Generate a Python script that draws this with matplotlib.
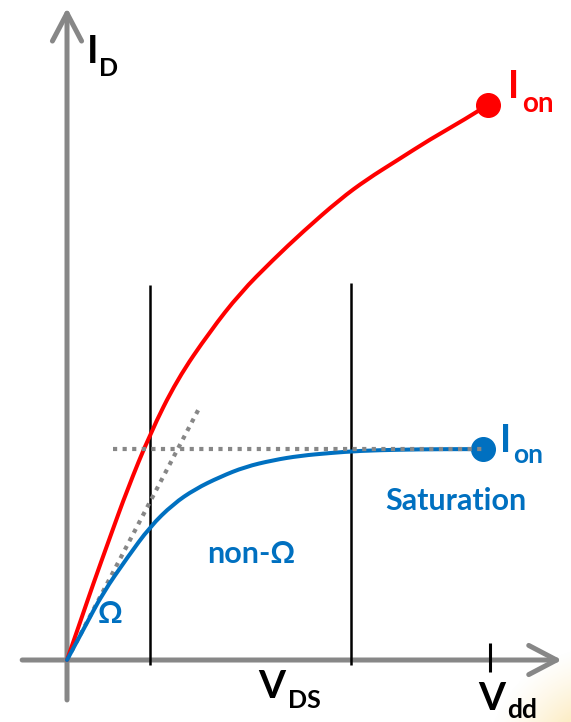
import numpy as np
import matplotlib.pyplot as plt
from matplotlib.patches import FancyArrowPatch, PathPatch
from matplotlib.path import Path

# V_DS / V_dd and I_D / I_on
red_v = [0, 0.031, 0.061, 0.102, 0.142, 0.196, 0.260, 0.338, 0.409, 0.487,
         0.558, 0.645, 0.709, 0.780, 0.858, 0.936, 0.995]
red_i = [0, 0.068, 0.135, 0.222, 0.306, 0.407, 0.505, 0.592, 0.661, 0.721,
         0.772, 0.830, 0.866, 0.900, 0.938, 0.972, 1.0]

blue_v = [0, 0.043, 0.085, 0.142, 0.196, 0.251, 0.303, 0.362, 0.421, 0.487,
          0.551, 0.622, 0.693, 0.787, 0.882, 0.983]
blue_i = [0, 0.061, 0.121, 0.184, 0.240, 0.281, 0.308, 0.330, 0.348, 0.360,
          0.368, 0.373, 0.377, 0.379, 0.380, 0.380]

tangent_v = [0, 0.314]
tangent_i = [0, 0.456]
sat_level = 0.380
sat_from = 0.109

region_edges = [0.196, 0.671]
region_top = [0.676, 0.679]
vdd = 1.0

W, H = 571, 722
RED = '#ff0000'
BLUE = '#0070c0'
GREY = '#878787'
FONT = ['Lato', 'Open Sans', 'DejaVu Sans']

fig = plt.figure(figsize=(W / 100, H / 100), dpi=100)

# soft yellow glow in the bottom right corner
bg = fig.add_axes([0, 0, 1, 1], zorder=0)
yy, xx = np.mgrid[0:H, 0:W]
d = np.hypot(xx - 600, yy - 760)
a = np.clip(1 - d / 115, 0, 1) ** 1.3 * 0.85
img = np.zeros((H, W, 4))
img[..., 0], img[..., 1], img[..., 2] = 0.98, 0.83, 0.45
img[..., 3] = a
bg.imshow(img, extent=[0, W, H, 0], aspect='auto')
bg.axis('off')

ax = fig.add_axes([0, 0, 1, 1], zorder=1)
ax.set_facecolor('none')
ax.set_xlim(-0.1584, 1.1915)
ax.set_ylim(-0.1117, 1.1892)
ax.axis('off')


def smooth_curve(xs, ys, color):
    # quadratic bezier through the midpoints, read points act as control points
    pts = list(zip(xs, ys))
    verts, codes = [pts[0]], [Path.MOVETO]
    for i in range(1, len(pts) - 1):
        mid = ((pts[i][0] + pts[i + 1][0]) / 2, (pts[i][1] + pts[i + 1][1]) / 2)
        if i == len(pts) - 2:
            mid = pts[-1]
        verts += [pts[i], mid]
        codes += [Path.CURVE3, Path.CURVE3]
    ax.add_patch(PathPatch(Path(verts, codes), fill=False, edgecolor=color,
                           lw=2.9, capstyle='round', zorder=4))


# axes with open arrow heads
for a_, b_ in [((0, -0.072), (0, 1.175)), ((-0.106, 0), (1.170, 0))]:
    ax.add_patch(FancyArrowPatch(a_, b_, arrowstyle='->,head_length=20,head_width=10.5',
                                 mutation_scale=1, lw=3.6, color=GREY,
                                 capstyle='round', joinstyle='round',
                                 shrinkA=0, shrinkB=0, zorder=1))

ax.vlines(region_edges, -0.009, region_top, color='black', lw=1.8, zorder=2)
ax.vlines(vdd, -0.022, 0.031, color='black', lw=2.2, zorder=2)

ax.plot(tangent_v, tangent_i, color=GREY, lw=3, ls=(0, (1, 1.3)), zorder=3)
ax.plot([sat_from, blue_v[-1]], [sat_level, sat_level], color=GREY, lw=3,
        ls=(0, (1, 1.3)), zorder=5)

smooth_curve(red_v, red_i, RED)
smooth_curve(blue_v, blue_i, BLUE)
ax.plot(red_v[-1], red_i[-1], 'o', color=RED, ms=17, zorder=6)
ax.plot(blue_v[-1], blue_i[-1], 'o', color=BLUE, ms=17, zorder=4)


def label(x, y, s, size, color='black'):
    fig.text(x / W, 1 - y / H, s, fontsize=size, color=color, fontweight='bold',
             family=FONT, ha='left', va='baseline', zorder=10)


label(87, 63, 'I', 28)
label(99, 76, 'D', 18)
label(508, 98, 'I', 27, RED)
label(522, 112, 'on', 20, RED)
label(500, 452, 'I', 27, BLUE)
label(513, 463, 'on', 19, BLUE)
label(385, 510, 'Saturation', 22, BLUE)
label(207, 563, 'non-Ω', 22, BLUE)
label(98, 623, 'Ω', 22, BLUE)
label(258, 698, 'V', 28)
label(288, 708, 'DS', 18)
label(478, 710, 'V', 28)
label(507, 718, 'dd', 19)

fig.savefig('out.png', dpi=100)
